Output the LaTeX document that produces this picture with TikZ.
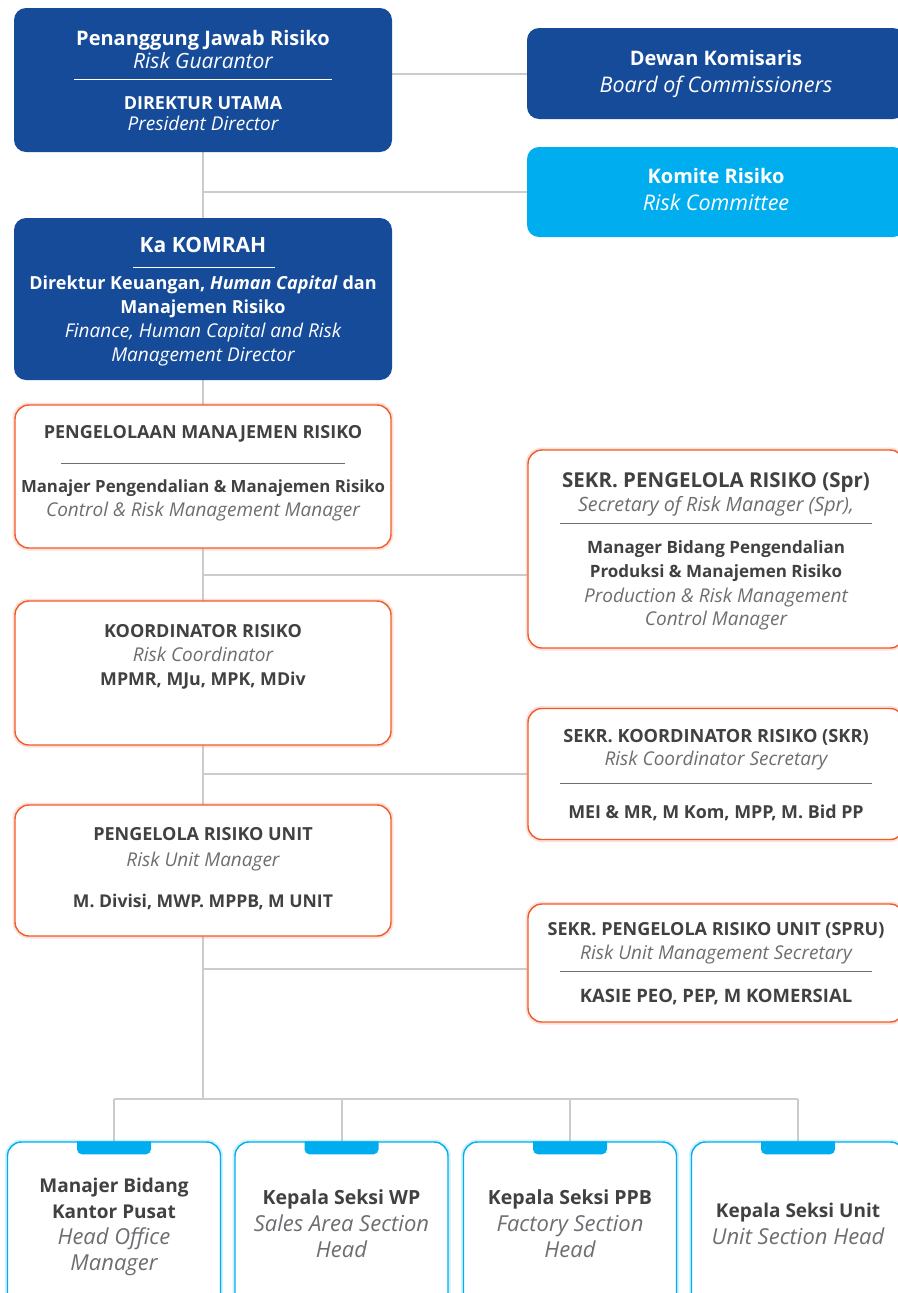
\documentclass[tikz,border=0pt]{standalone}
\usepackage{fontspec}
\setmainfont{Open Sans}
\usetikzlibrary{backgrounds}

\definecolor{navy}{RGB}{22,75,154}
\definecolor{sky}{RGB}{0,174,239}
\definecolor{boxred}{RGB}{241,90,41}
\definecolor{linegray}{RGB}{204,204,204}
\definecolor{inkdark}{RGB}{65,64,66}
\definecolor{inklight}{RGB}{109,110,113}

\newcommand{\setsz}[1]{\fontsize{#1}{#1}\selectfont}

\tikzset{
	link/.style={draw=linegray, line width=2pt},
	bluebox/.style={fill=navy, rounded corners=12pt, minimum width=378pt},
	skybox/.style={fill=sky, rounded corners=12pt, minimum width=378pt},
	redbox/.style={draw=boxred, line width=1.4pt, fill=white, rounded corners=14pt, minimum width=376pt,
		preaction={draw=boxred!60, line width=5pt, opacity=0.3}},
	cyanbox/.style={draw=sky, line width=1.4pt, fill=white, rounded corners=14pt, minimum width=213pt, minimum height=170pt,
		preaction={draw=sky!60, line width=5pt, opacity=0.3}},
	wt/.style={anchor=base, inner sep=0pt, text=white},
	dk/.style={anchor=base, inner sep=0pt, text=inkdark},
	lt/.style={anchor=base, inner sep=0pt, text=inklight},
}

\begin{document}
\begin{tikzpicture}[x=1pt,y=-1pt]
	\useasboundingbox (0,0) rectangle (897,1293);

	% top: risk guarantor, board, committee
	\node[bluebox, minimum height=144pt] (guarantor) at (203,80) {};
	\node[wt, font=\bfseries\setsz{20}] (guarantor-id) at (203,45) {Penanggung Jawab Risiko};
	\node[wt, font=\itshape\setsz{21}] (guarantor-en) at (203,68) {Risk Guarantor};
	\draw[white, line width=0.8pt] (74,79) -- (332,79);
	\node[wt, font=\bfseries\setsz{18}] (presdir-id) at (203,109) {DIREKTUR UTAMA};
	\node[wt, font=\itshape\setsz{19}] (presdir-en) at (203,130) {President Director};

	\node[bluebox, minimum height=91pt] (dewan) at (716,73.5) {};
	\node[wt, font=\bfseries\setsz{20}] (dewan-id) at (716,65) {Dewan Komisaris};
	\node[wt, font=\itshape\setsz{21.5}] (dewan-en) at (716,92) {Board of Commissioners};

	\node[skybox, minimum height=90pt] (komite) at (716,192) {};
	\node[wt, font=\bfseries\setsz{20}] (komite-id) at (716,183) {Komite Risiko};
	\node[wt, font=\itshape\setsz{21.5}] (komite-en) at (716,210) {Risk Committee};

	% head of the risk committee
	\node[bluebox, minimum height=162pt] (komrah) at (203,299) {};
	\node[wt, font=\bfseries\setsz{21}] (komrah-hd) at (203,252) {Ka KOMRAH};
	\draw[white, line width=0.8pt] (133,267) -- (275,267);
	\node[wt, font=\bfseries\setsz{18}] (komrah-id1) at (203,289) {Direktur Keuangan, \textit{Human Capital} dan};
	\node[wt, font=\bfseries\setsz{18}] (komrah-id2) at (203,313) {Manajemen Risiko};
	\node[wt, font=\itshape\setsz{19}] (komrah-en1) at (203,337) {Finance, Human Capital and Risk};
	\node[wt, font=\itshape\setsz{19}] (komrah-en2) at (203,361) {Management Director};

	% left column
	\node[redbox, minimum height=143pt] (pmr) at (203,476.5) {};
	\node[dk, font=\bfseries\setsz{18}] (pmr-hd) at (203,438) {PENGELOLAAN MANAJEMEN RISIKO};
	\draw[inklight, line width=0.8pt] (61,463) -- (345,463);
	\node[dk, font=\bfseries\setsz{16.8}] (pmr-id) at (203,492) {Manajer Pengendalian \& Manajemen Risiko};
	\node[lt, font=\itshape\setsz{19}] (pmr-en) at (203,516) {Control \& Risk Management Manager};

	\node[redbox, minimum height=144pt] (koord) at (203,673) {};
	\node[dk, font=\bfseries\setsz{18}] (koord-hd) at (203,637) {KOORDINATOR RISIKO};
	\node[lt, font=\itshape\setsz{19}] (koord-en) at (203,661) {Risk Coordinator};
	\node[dk, font=\bfseries\setsz{17.8}] (koord-id) at (203,685) {MPMR, MJu, MPK, MDiv};

	\node[redbox, minimum height=131pt] (pru) at (203,870.5) {};
	\node[dk, font=\bfseries\setsz{18}] (pru-hd) at (203,840) {PENGELOLA RISIKO UNIT};
	\node[lt, font=\itshape\setsz{19}] (pru-en) at (203,866) {Risk Unit Manager};
	\node[dk, font=\bfseries\setsz{17.6}] (pru-id) at (203,907) {M. Divisi, MWP. MPPB, M UNIT};

	% right column, secretaries
	\node[redbox, minimum height=198pt] (spr) at (716,549) {};
	\node[dk, font=\bfseries\setsz{20.5}] (spr-hd) at (716,487) {SEKR. PENGELOLA RISIKO (Spr)};
	\node[lt, font=\itshape\setsz{19.7}] (spr-en) at (716,511) {Secretary of Risk Manager (Spr),};
	\draw[inklight, line width=0.8pt] (560,523) -- (872,523);
	\node[dk, font=\bfseries\setsz{17}] (spr-id1) at (716,553) {Manager Bidang Pengendalian};
	\node[dk, font=\bfseries\setsz{17}] (spr-id2) at (716,577) {Produksi \& Manajemen Risiko};
	\node[lt, font=\itshape\setsz{19}] (spr-en1) at (716,602) {Production \& Risk Management};
	\node[lt, font=\itshape\setsz{19}] (spr-en2) at (716,625) {Control Manager};

	\node[redbox, minimum height=131pt] (skr) at (716,774) {};
	\node[dk, font=\bfseries\setsz{18.2}] (skr-hd) at (716,742) {SEKR. KOORDINATOR RISIKO (SKR)};
	\node[lt, font=\itshape\setsz{19}] (skr-en) at (716,765) {Risk Coordinator Secretary};
	\draw[inklight, line width=0.8pt] (560,783) -- (872,783);
	\node[dk, font=\bfseries\setsz{17.9}] (skr-id) at (716,818) {MEI \& MR, M Kom, MPP, M. Bid PP};

	\node[redbox, minimum height=118pt] (spru) at (716,963) {};
	\node[dk, font=\bfseries\setsz{18}] (spru-hd) at (716,935) {SEKR. PENGELOLA RISIKO UNIT (SPRU)};
	\node[lt, font=\itshape\setsz{19}] (spru-en) at (716,959) {Risk Unit Management Secretary};
	\draw[inklight, line width=0.8pt] (560,971) -- (872,971);
	\node[dk, font=\bfseries\setsz{18.5}] (spru-id) at (716,1002) {KASIE PEO, PEP, M KOMERSIAL};

	% bottom row, section heads
	\node[cyanbox] (office) at (114,1227) {};
	\node[dk, font=\bfseries\setsz{19}] (office-id1) at (114,1192) {Manajer Bidang};
	\node[dk, font=\bfseries\setsz{19}] (office-id2) at (114,1218) {Kantor Pusat};
	\node[lt, font=\itshape\setsz{22}] (office-en1) at (114,1244) {Head Office};
	\node[lt, font=\itshape\setsz{22}] (office-en2) at (114,1270) {Manager};

	\node[cyanbox] (wp) at (341.5,1227) {};
	\node[dk, font=\bfseries\setsz{19.5}] (wp-id) at (341.5,1204) {Kepala Seksi WP};
	\node[lt, font=\itshape\setsz{22}] (wp-en1) at (341.5,1231) {Sales Area Section};
	\node[lt, font=\itshape\setsz{22}] (wp-en2) at (341.5,1257) {Head};

	\node[cyanbox] (ppb) at (570,1227) {};
	\node[dk, font=\bfseries\setsz{19.5}] (ppb-id) at (570,1204) {Kepala Seksi PPB};
	\node[lt, font=\itshape\setsz{22}] (ppb-en1) at (570,1231) {Factory Section};
	\node[lt, font=\itshape\setsz{22}] (ppb-en2) at (570,1257) {Head};

	\node[cyanbox] (unit) at (798,1227) {};
	\node[dk, font=\bfseries\setsz{19}] (unit-id) at (798,1217) {Kepala Seksi Unit};
	\node[lt, font=\itshape\setsz{22}] (unit-en) at (798,1244) {Unit Section Head};

	% tabs on the section heads
	\foreach \b in {office,wp,ppb,unit}
		\fill[sky, rounded corners=5pt] ([xshift=-37pt]\b.north) -- ++(0,13) -- ++(74,0) -- ++(0,-13);

	% connectors
	\coordinate (sprline) at (203,575);
	\coordinate (skrline) at (203,774);
	\coordinate (spruline) at (203,969);
	\coordinate (bus) at (203,1099);
	\begin{scope}[on background layer]
		\fill[white] (0,0) rectangle (897,1293);
		\draw[link] (guarantor.south) -- (bus);
		\draw[link] (dewan.west) -- (dewan.west -| guarantor.east);
		\draw[link] (komite.west) -- (komite.west -| guarantor.south);
		\draw[link] (sprline) -- (sprline -| spr.west);
		\draw[link] (skrline) -- (skrline -| skr.west);
		\draw[link] (spruline) -- (spruline -| spru.west);
		\draw[link] (office.north |- bus) -- (unit.north |- bus);
		\foreach \b in {office,wp,ppb,unit}
			\draw[link] (\b.north) -- (\b.north |- bus);
	\end{scope}
\end{tikzpicture}
\end{document}
